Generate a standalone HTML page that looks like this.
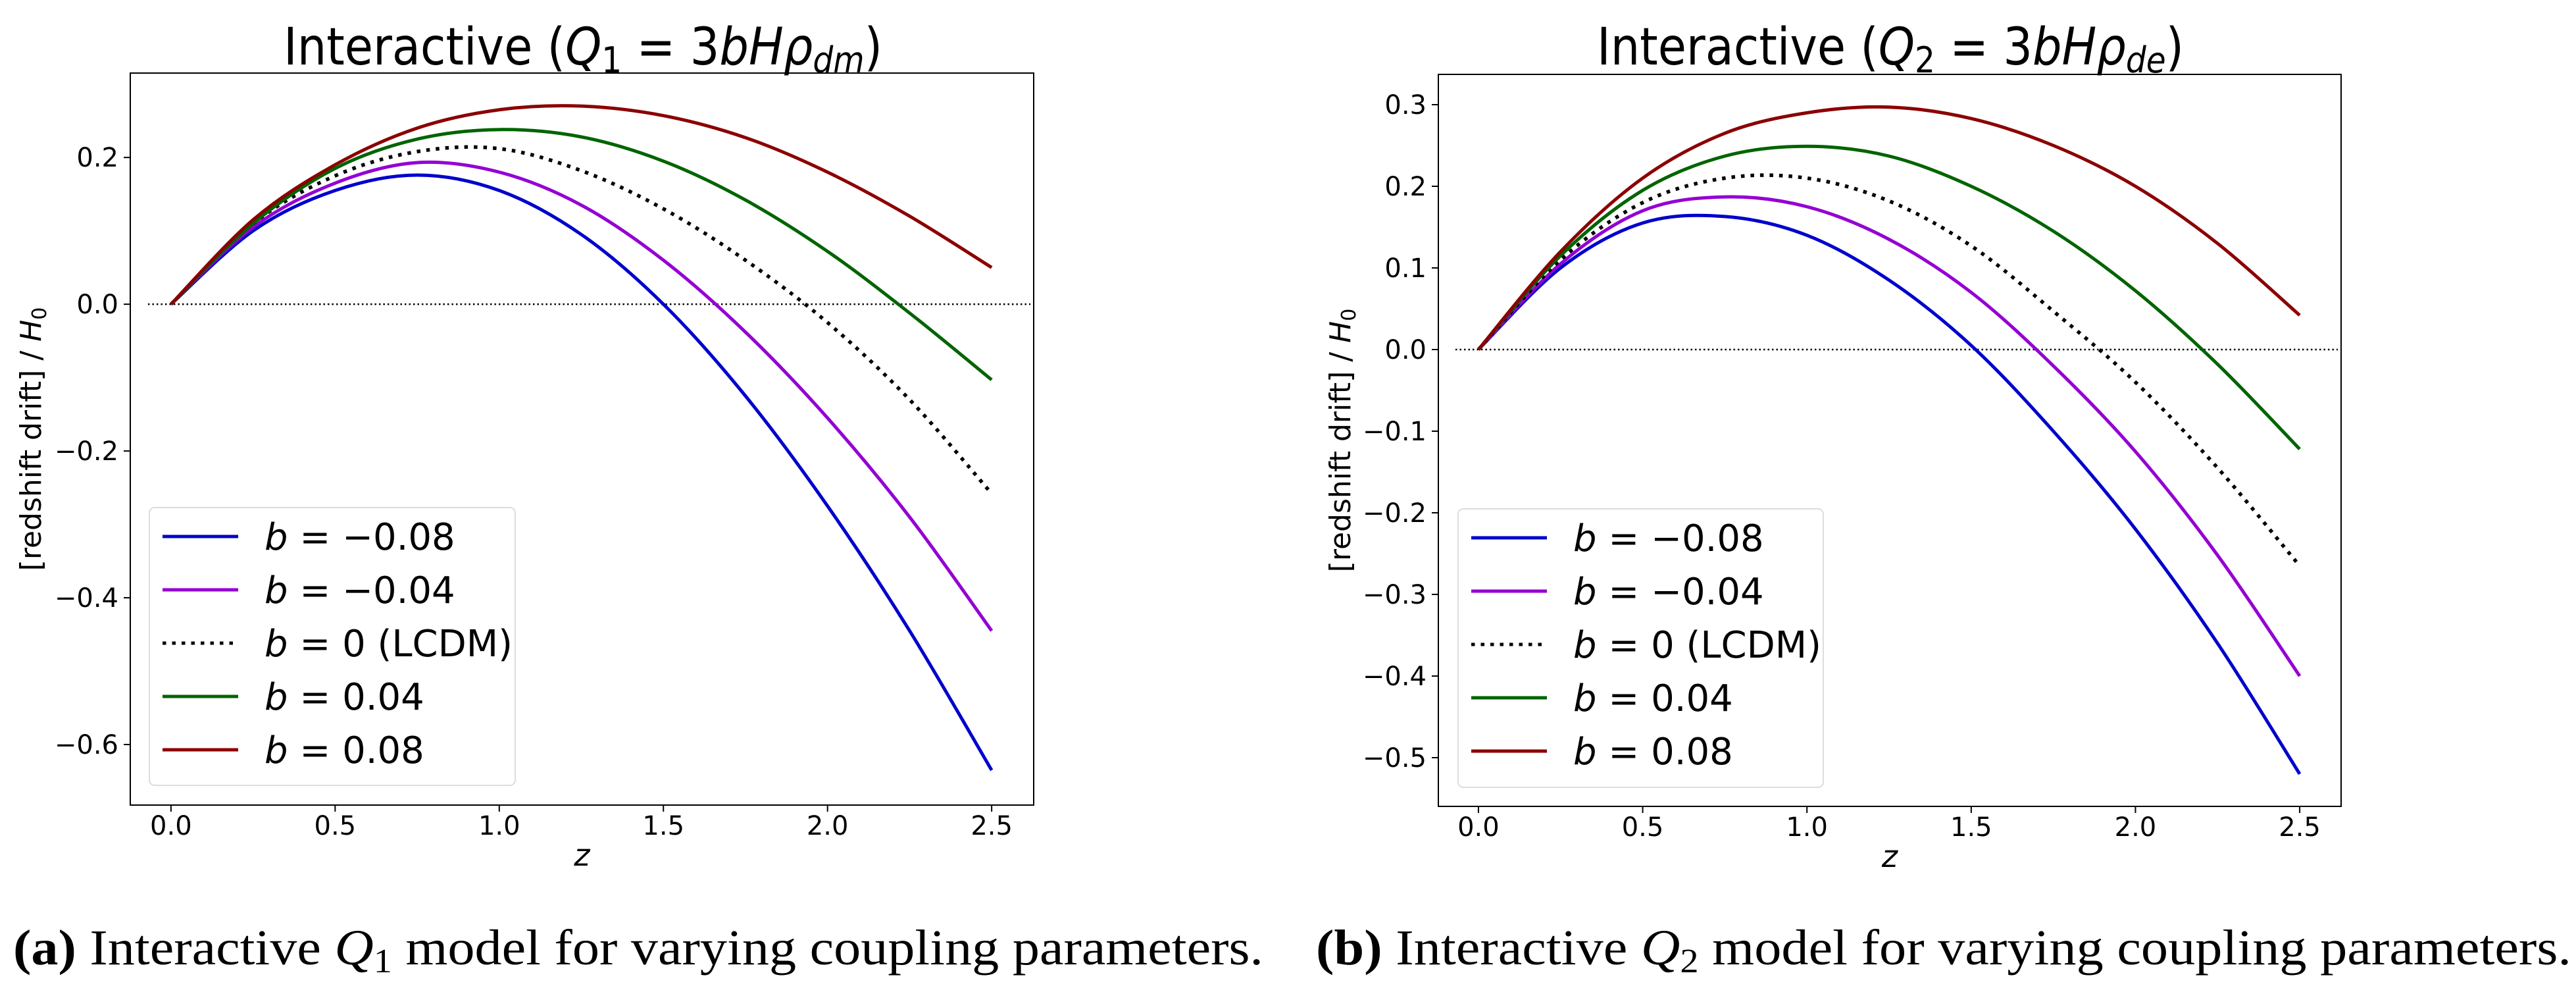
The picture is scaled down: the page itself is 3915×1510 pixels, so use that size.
<!DOCTYPE html>
<html><head><meta charset="utf-8">
<style>
html,body{margin:0;padding:0;background:#fff;}
svg{display:block;}
text{font-family:"DejaVu Sans","Liberation Sans",sans-serif;}
.cap{font-family:"Liberation Serif",serif;}
</style></head>
<body>
<svg id="fig" width="3915" height="1510" viewBox="0 0 3915 1510" xmlns="http://www.w3.org/2000/svg">
<text class="cap" x="20" y="1465" font-size="76" textLength="1900" lengthAdjust="spacingAndGlyphs"><tspan font-weight="bold">(a)</tspan> Interactive <tspan font-style="italic">Q</tspan><tspan font-size="52" dy="12">1</tspan><tspan dy="-12"> model for varying coupling parameters.</tspan></text>
<text class="cap" x="2000" y="1465" font-size="76" textLength="1908" lengthAdjust="spacingAndGlyphs"><tspan font-weight="bold">(b)</tspan> Interactive <tspan font-style="italic">Q</tspan><tspan font-size="52" dy="12">2</tspan><tspan dy="-12"> model for varying coupling parameters.</tspan></text>
</svg>
<script>
const zVals = [0,0.25,0.5,0.75,1.0,1.25,1.5,1.75,2.0,2.25,2.5];
const seriesNames = ["b = −0.08","b = −0.04","b = 0 (LCDM)","b = 0.04","b = 0.08"];
const leftBlue   = [0,0.10,0.155,0.176,0.155,0.095,0.0,-0.125,-0.275,-0.445,-0.635];
const leftPurple = [0,0.105,0.165,0.193,0.180,0.135,0.06,-0.038,-0.155,-0.29,-0.445];
const leftLCDM   = [0,0.11,0.175,0.208,0.212,0.182,0.13,0.06,-0.025,-0.13,-0.258];
const leftGreen  = [0,0.11,0.185,0.225,0.238,0.228,0.195,0.142,0.072,-0.012,-0.103];
const leftRed    = [0,0.115,0.19,0.24,0.265,0.27,0.257,0.227,0.18,0.12,0.05];
const rightBlue   = [0,0.10,0.155,0.163,0.14,0.085,0.005,-0.10,-0.22,-0.36,-0.52];
const rightPurple = [0,0.105,0.17,0.187,0.175,0.135,0.07,-0.02,-0.125,-0.252,-0.40];
const rightLCDM   = [0,0.11,0.18,0.21,0.21,0.182,0.127,0.047,-0.04,-0.145,-0.265];
const rightGreen  = [0,0.115,0.195,0.237,0.249,0.237,0.20,0.145,0.072,-0.018,-0.122];
const rightRed    = [0,0.12,0.21,0.265,0.29,0.297,0.283,0.25,0.20,0.13,0.042];
const xTicks = [0,0.5,1.0,1.5,2.0,2.5];
const xTickLabels = ["0.0","0.5","1.0","1.5","2.0","2.5"];
const leftYTicks = [0.2,0,-0.2,-0.4,-0.6];
const leftYTickLabels = ["0.2","0.0","−0.2","−0.4","−0.6"];
const rightYTicks = [0.3,0.2,0.1,0,-0.1,-0.2,-0.3,-0.4,-0.5];
const rightYTickLabels = ["0.3","0.2","0.1","0.0","−0.1","−0.2","−0.3","−0.4","−0.5"];
const colors = ["#0000cc","#9400d3","#000000","#006400","#8b0000"];

const NS="http://www.w3.org/2000/svg";
const svg=document.getElementById('fig');
function mk(tag,attrs,parent){const e=document.createElementNS(NS,tag);for(const k in attrs)e.setAttribute(k,attrs[k]);(parent||svg).appendChild(e);return e;}

function panel(cfg){
  const g=mk('g',{});
  
  
  const X=z=>cfg.left+(z-cfg.xmin)/(cfg.xmax-cfg.xmin)*(cfg.right-cfg.left);
  const Y=v=>cfg.top+(cfg.ymax-v)/(cfg.ymax-cfg.ymin)*(cfg.bottom-cfg.top);
  const zl=mk('line',{x1:X(-0.07),x2:X(cfg.xmax-0.01),y1:Y(0),y2:Y(0),stroke:'#000','stroke-width':2.5,'stroke-dasharray':'2.5 4'},g);
  
  
  cfg.series.forEach((vals,i)=>{
    const pts=zVals.map((z,j)=>[X(z),Y(vals[j])]);
    let d=`M${pts[0][0]},${pts[0][1]}`;
    for(let j=0;j<pts.length-1;j++){
      const p0=pts[Math.max(j-1,0)],p1=pts[j],p2=pts[j+1],p3=pts[Math.min(j+2,pts.length-1)];
      const c1=[p1[0]+(p2[0]-p0[0])/6,p1[1]+(p2[1]-p0[1])/6];
      const c2=[p2[0]-(p3[0]-p1[0])/6,p2[1]-(p3[1]-p1[1])/6];
      d+=` C${c1[0]},${c1[1]} ${c2[0]},${c2[1]} ${p2[0]},${p2[1]}`;
    }
    const a={d:d,fill:'none',stroke:colors[i],'stroke-width':i==2?5.5:5};
    if(i==2){a['stroke-dasharray']='5.5 9';}
    const p=mk('path',a,g);
    
    
  });
  const fr=mk('rect',{x:cfg.left,y:cfg.top,width:cfg.right-cfg.left,height:cfg.bottom-cfg.top,fill:'none',stroke:'#000','stroke-width':2},g);
  
  
  xTicks.forEach((t,i)=>{
    mk('line',{x1:X(t),x2:X(t),y1:cfg.bottom,y2:cfg.bottom+10,stroke:'#000','stroke-width':2},g);
    const tx=mk('text',{x:X(t),y:cfg.bottom+45,'font-size':40,'text-anchor':'middle',fill:'#000'},g);
    tx.textContent=xTickLabels[i];
    
    
  });
  cfg.yTicks.forEach((t,i)=>{
    mk('line',{x1:cfg.left-10,x2:cfg.left,y1:Y(t),y2:Y(t),stroke:'#000','stroke-width':2},g);
    const tx=mk('text',{x:cfg.left-18,y:Y(t)+14,'font-size':40,'text-anchor':'end',fill:'#000'},g);
    tx.textContent=cfg.yLabels[i];
    
    
  });
  const xl=mk('text',{x:(cfg.left+cfg.right)/2,y:cfg.bottom+92,'font-size':46,'font-style':'italic','text-anchor':'middle'},g);
  xl.textContent='z';
  
  
  const yl=mk('text',{x:0,y:0,'font-size':44,'text-anchor':'middle',transform:`translate(${cfg.ylabX},${(cfg.top+cfg.bottom)/2}) rotate(-90)`},g);
  yl.innerHTML='[redshift drift] / <tspan font-style="italic">H</tspan><tspan font-size="30" dy="8">0</tspan>';
  
  
  const tt=mk('text',{x:cfg.titleX,y:98,'font-size':78,'text-anchor':'middle',textLength:cfg.titleW,lengthAdjust:'spacingAndGlyphs'},g);
  tt.innerHTML=`Interactive (<tspan font-style="italic">Q</tspan><tspan font-size="54" dy="12">${cfg.qi}</tspan><tspan dy="-12"> = 3</tspan><tspan font-style="italic">bHρ</tspan><tspan font-style="italic" font-size="54" dy="12">${cfg.sub}</tspan><tspan dy="-12">)</tspan>`;
  
  
  const lg=mk('g',{},g);
  
  
  mk('rect',{x:cfg.leg.x,y:cfg.leg.y,width:cfg.leg.w,height:cfg.leg.h,rx:8,fill:'#fff','fill-opacity':0.8,stroke:'#ddd','stroke-width':2},lg);
  seriesNames.forEach((n,i)=>{
    const ey=cfg.leg.y+44+i*81;
    const e=mk('g',{},lg);
    
    
    const a={x1:cfg.leg.x+20,x2:cfg.leg.x+20+cfg.leg.line,y1:ey,y2:ey,stroke:colors[i],'stroke-width':5};
    if(i==2)a['stroke-dasharray']='5.5 9';
    mk('line',a,e);
    const t=mk('text',{x:cfg.leg.x+20+cfg.leg.line+40,y:ey+20,'font-size':56},e);
    const parts=n.split(' = ');
    t.innerHTML=`<tspan font-style="italic">b</tspan> = ${parts[1]}`;
  });
}
panel({name:'chart-q1',left:198,right:1571,top:111,bottom:1223,xmin:-0.124,xmax:2.628,ymin:-0.6825,ymax:0.315,
  series:[leftBlue,leftPurple,leftLCDM,leftGreen,leftRed],keys:['b-neg008','b-neg004','b-0-lcdm','b-004','b-008'],
  yTicks:leftYTicks,yLabels:leftYTickLabels,ylabX:62,titleX:886,titleW:910,qi:'1',sub:'dm',
  leg:{x:227,y:771,w:556,h:422,line:115}});
panel({name:'chart-q2',left:2186,right:3558,top:113,bottom:1225,xmin:-0.122,xmax:2.626,ymin:-0.5597,ymax:0.3371,
  series:[rightBlue,rightPurple,rightLCDM,rightGreen,rightRed],keys:['b-neg008','b-neg004','b-0-lcdm','b-004','b-008'],
  yTicks:rightYTicks,yLabels:rightYTickLabels,ylabX:2052,titleX:2873,titleW:892,qi:'2',sub:'de',
  leg:{x:2216,y:773,w:555,h:423,line:115}});
</script>
</body></html>
